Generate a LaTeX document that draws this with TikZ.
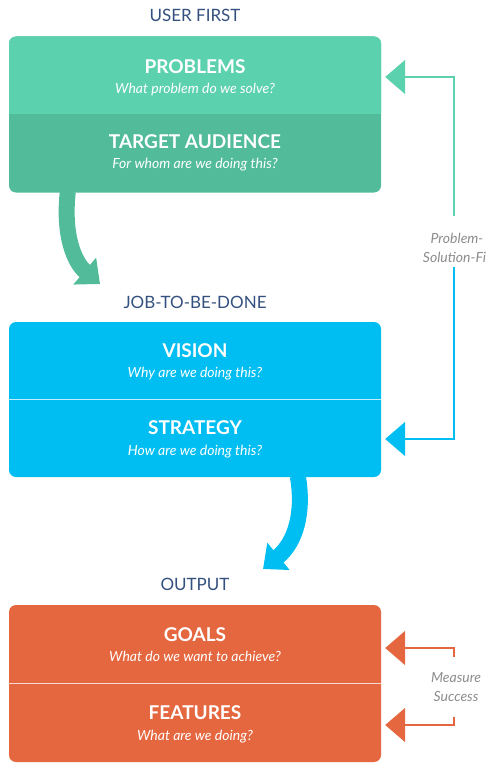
\documentclass[tikz,border=0pt]{standalone}
\usepackage{fontspec}
\setmainfont{Lato}
\usetikzlibrary{arrows.meta}
\definecolor{glight}{HTML}{5CD1AD}
\definecolor{gdark}{HTML}{51BB9A}
\definecolor{bmain}{HTML}{00BEF2}
\definecolor{omain}{HTML}{E5673F}
\definecolor{navy}{HTML}{34507E}
\definecolor{labgray}{HTML}{8C8C8C}
\tikzset{
  boxshape/.style={rectangle, rounded corners=7pt, minimum width=372pt, inner sep=0pt},
  head/.style={anchor=base, text=white, font=\fontsize{19}{19}\selectfont\bfseries, inner sep=0pt},
  quest/.style={anchor=base, text=white, font=\fontsize{14}{14}\selectfont\itshape, inner sep=0pt},
  sectitle/.style={anchor=base, text=navy, font=\fontsize{17}{17}\selectfont, inner sep=0pt},
  sidelabel/.style={text=labgray, font=\fontsize{14}{19}\selectfont\itshape, align=center, inner sep=0pt},
  bigarrow/.style={line width=16pt, -{Triangle[width=34pt,length=20pt]}},
  feedback/.style={line width=2pt, -{Triangle[width=34pt,length=20pt]}},
  divider/.style={line width=1pt, white!75!#1},
}
\begin{document}
\begin{tikzpicture}[x=1pt,y=-1pt]
\useasboundingbox (0,0) rectangle (486,781);
\clip (0,0) rectangle (486,781);

% ---------- green box ----------
\node[sectitle] (userfirst) at (195,22) {USER FIRST};
\node[boxshape, fill=gdark, minimum height=156pt] (gbox) at (195,114.5) {};
\fill[glight] (9,114) [rounded corners=7pt]-- (9,36.5) -- (381,36.5) [sharp corners]-- (381,114) -- cycle;
\node[head] (problems) at (195,74) {PROBLEMS};
\node[quest] (problemsq) at (195,94) {What problem do we solve?};
\node[head] (audience) at (195,148) {TARGET AUDIENCE};
\node[quest] (audienceq) at (195,168) {For whom are we doing this?};

% ---------- blue box ----------
\node[sectitle] (jtbd) at (195,308) {JOB-TO-BE-DONE};
\node[boxshape, fill=bmain, minimum height=155pt] (bbox) at (195,399.5) {};
\draw[divider=bmain] (9,399.5) -- (381,399.5);
\node[head] (vision) at (195,357) {VISION};
\node[quest] (visionq) at (195,377) {Why are we doing this?};
\node[head] (strategy) at (195,434) {STRATEGY};
\node[quest] (strategyq) at (195,455) {How are we doing this?};

% ---------- orange box ----------
\node[sectitle] (output) at (195,590) {OUTPUT};
\node[boxshape, fill=omain, minimum height=157pt] (obox) at (195,683.5) {};
\draw[divider=omain] (9,683.5) -- (381,683.5);
\node[head] (goals) at (195,641) {GOALS};
\node[quest] (goalsq) at (195,661) {What do we want to achieve?};
\node[head] (features) at (195,719) {FEATURES};
\node[quest] (featuresq) at (195,740) {What are we doing?};

% ---------- curved flow arrows ----------
\coordinate (gstart) at ([xshift=59pt]gbox.south west);
\coordinate (gend) at (100,284);
\draw[bigarrow, gdark] ([yshift=1pt]gstart) .. controls (63,235) and (74,262) .. (gend);
\coordinate (bstart) at ([xshift=289pt]bbox.south west);
\coordinate (bend) at (263,569);
\draw[bigarrow, bmain] ([yshift=1pt]bstart) .. controls (304,512) and (296,542) .. (bend);

% ---------- problem-solution-fit ----------
\node[sidelabel] (psf) at (457,248) {Problem-\\Solution-Fit};
\coordinate (gtop) at (454,216);
\coordinate (btop) at (454,267);
\draw[feedback, glight] (gtop) |- ([xshift=4pt]gbox.east |- 0,77);
\draw[feedback, bmain] (btop) |- ([xshift=4pt]bbox.east |- 0,439);

% ---------- measure success ----------
\node[sidelabel] (ms) at (456,687) {Measure\\Success};
\coordinate (mtop) at (454,657);
\coordinate (mbot) at (454,717);
\draw[feedback, omain] (mtop) |- ([xshift=4pt]obox.east |- 0,648);
\draw[feedback, omain] (mbot) |- ([xshift=4pt]obox.east |- 0,725);
\end{tikzpicture}
\end{document}
